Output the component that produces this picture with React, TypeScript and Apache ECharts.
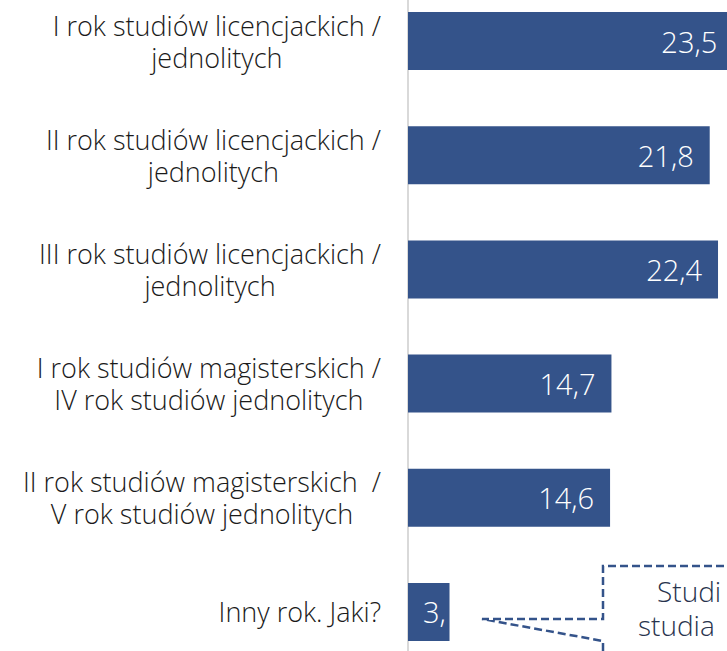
import React, { useEffect, useRef } from "react";
import * as echarts from "echarts";

const categories: string[] = [
  "I rok studiów licencjackich /\njednolitych",
  "II rok studiów licencjackich /\njednolitych",
  "III rok studiów licencjackich /\njednolitych",
  "I rok studiów magisterskich /\nIV rok studiów jednolitych",
  "II rok studiów magisterskich  /\nV rok studiów jednolitych",
  "Inny rok. Jaki?",
];
const values: number[] = [23.5, 21.8, 22.4, 14.7, 14.6, 3.0];
const valueLabels: string[] = ["23,5", "21,8", "22,4", "14,7", "14,6", "3,"];
const calloutLines: string[] = ["Studi", "studia"];

const BAR = "#34538a";
const FONT = "'Open Sans', 'Noto Sans', sans-serif";
const OFF = 16; // inner chart offset above the visible page

export default function App() {
  const ref = useRef<HTMLDivElement>(null);
  useEffect(() => {
    document.body.style.margin = "0";
    if (!ref.current) return;
    const chart = echarts.init(ref.current, undefined, { renderer: "svg" });
    chart.setOption({
      animation: false,
      backgroundColor: "#ffffff",
      grid: { left: 408, top: 0, width: 346, height: 685, containLabel: false },
      xAxis: {
        type: "value",
        min: 0,
        max: 25,
        show: false,
        splitLine: { show: false },
      },
      yAxis: {
        type: "category",
        inverse: true,
        data: categories,
        axisTick: { show: false },
        axisLine: { show: true, lineStyle: { color: "#d9d9d9", width: 2 } },
        axisLabel: {
          margin: 27,
          align: "right",
          formatter: (v: string) =>
            v
              .split("\n")
              .map((l) => `{c|${l}}`)
              .join("\n"),
          rich: {
            c: {
              align: "center",
              fontSize: 27,
              fontWeight: 300,
              fontFamily: FONT,
              color: "#1a1a1a",
              lineHeight: 32,
            },
          },
        },
      },
      series: [
        {
          type: "bar",
          data: values.map((v, i) =>
            i === values.length - 1
              ? { value: v, label: { position: "insideLeft", distance: 15 } }
              : v
          ),
          barWidth: 58,
          clip: false,
          itemStyle: { color: BAR },
          label: {
            show: true,
            position: "insideRight",
            distance: 16,
            color: "#ffffff",
            fontSize: 29,
            fontWeight: 300,
            fontFamily: FONT,
            formatter: (p: any) => valueLabels[p.dataIndex],
          },
        },
      ],
      graphic: [
        {
          type: "polyline",
          shape: {
            points: [
              [760, 566 + OFF],
              [603, 566 + OFF],
              [603, 619 + OFF],
              [482, 619 + OFF],
              [603, 641 + OFF],
              [603, 680 + OFF],
            ],
          },
          style: { stroke: BAR, fill: null, lineWidth: 2.5, lineDash: [8, 4] },
          z: 100,
        },
        {
          type: "text",
          x: 657,
          y: 605 + OFF,
          style: {
            text: calloutLines[0],
            fontSize: 28,
            fontWeight: 300,
            fontFamily: FONT,
            fill: "#28334d",
            textVerticalAlign: "bottom",
          },
          z: 100,
        },
        {
          type: "text",
          x: 638,
          y: 639 + OFF,
          style: {
            text: calloutLines[1],
            fontSize: 28,
            fontWeight: 300,
            fontFamily: FONT,
            fill: "#28334d",
            textVerticalAlign: "bottom",
          },
          z: 100,
        },
      ],
    });
    return () => chart.dispose();
  }, []);
  return (
    <div style={{ position: "relative", width: 727, height: 651, overflow: "hidden" }}>
      <div
        ref={ref}
        style={{ position: "absolute", left: 0, top: -OFF, width: 760, height: 700 }}
      />
    </div>
  );
}
